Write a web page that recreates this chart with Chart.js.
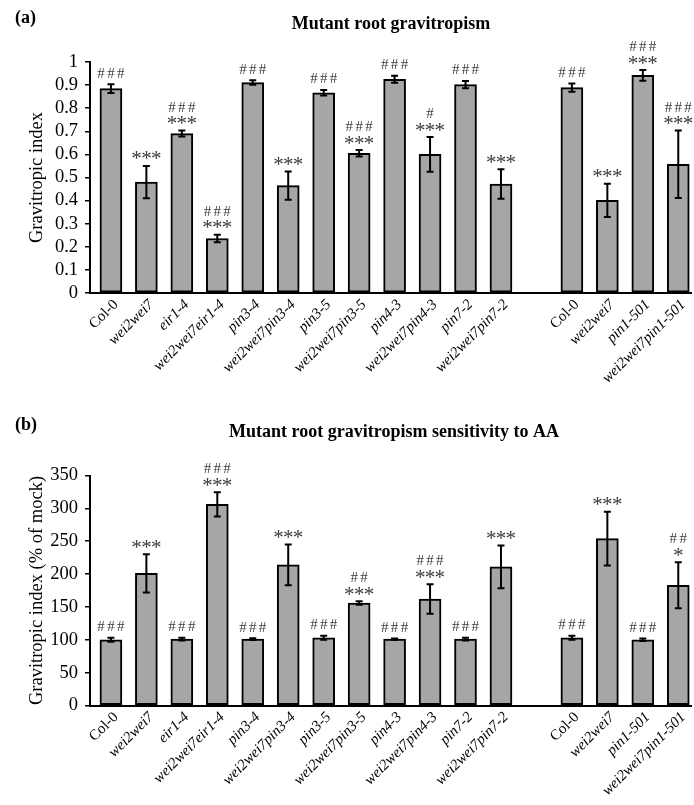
<!DOCTYPE html>
<html>
<head>
<meta charset="utf-8">
<script src="https://cdn.jsdelivr.net/npm/chart.js@4/dist/chart.umd.min.js"></script>
<style>
  html, body { margin: 0; padding: 0; background: #ffffff; }
  canvas { display: block; }
</style>
</head>
<body>
<canvas id="chartA" width="694" height="400"></canvas>
<canvas id="chartB" width="694" height="405"></canvas>
<script>
// ---- data ----
const categories = ['Col-0','wei2wei7','eir1-4','wei2wei7eir1-4','pin3-4','wei2wei7pin3-4','pin3-5','wei2wei7pin3-5','pin4-3','wei2wei7pin4-3','pin7-2','wei2wei7pin7-2','','Col-0','wei2wei7','pin1-501','wei2wei7pin1-501'];

const titleA = 'Mutant root gravitropism';
const panelA = '(a)';
const yTitleA = 'Gravitropic index';
const gravValues = [0.885,0.480,0.690,0.236,0.911,0.465,0.867,0.605,0.925,0.600,0.902,0.472,null,0.889,0.401,0.942,0.557];
const gravErrors = [0.019,0.070,0.013,0.016,0.010,0.061,0.012,0.014,0.015,0.075,0.016,0.064,null,0.018,0.072,0.023,0.146];
const gravHash = ['###','','###','###','###','','###','###','###','#','###','','','###','','###','###'];
const gravStar = ['','***','***','***','','***','','***','','***','','***','','','***','***','***'];

const titleB = 'Mutant root gravitropism sensitivity to AA';
const panelB = '(b)';
const yTitleB = 'Gravitropic index (% of mock)';
const aaValues = [100,201,101,306,101,214,103,156,101,162,101,211,null,103,254,100,183];
const aaErrors = [3,29,2,18.5,1.5,31,3,2.5,1,22.5,2,32.5,null,3,41,2,35];
const aaHash = ['###','','###','###','###','','###','##','###','###','###','','','###','','###','##'];
const aaStar = ['','***','','***','','***','','***','','***','','***','','','***','','*'];

const yTicksA = [0,0.1,0.2,0.3,0.4,0.5,0.6,0.7,0.8,0.9,1];
const yTicksB = [0,50,100,150,200,250,300,350];

// ---- helpers ----
const SERIF = '"Liberation Serif", "Times New Roman", serif';

function drawRow(ctx, text, cx, bottomY, font, spacing, color) {
  if (!text) return bottomY;
  ctx.font = font;
  ctx.fillStyle = color;
  ctx.textAlign = 'center';
  ctx.textBaseline = 'alphabetic';
  const m = ctx.measureText(text[0]);
  const baseline = bottomY - m.actualBoundingBoxDescent;
  const n = text.length;
  for (let k = 0; k < n; k++) {
    ctx.fillText(text[k], cx + (k - (n - 1) / 2) * spacing, baseline);
  }
  return baseline - m.actualBoundingBoxAscent;
}

function makePlugin(values, errors, hashes, stars, panel, title, titleX, labelBase, titleBase) {
  return {
    id: 'extras',
    afterDatasetsDraw(chart) {
      const ctx = chart.ctx;
      const xs = chart.scales.x, ys = chart.scales.y;
      ctx.save();
      // error bars
      ctx.strokeStyle = '#000';
      ctx.lineWidth = 2;
      values.forEach((v, i) => {
        if (v === null) return;
        const e = errors[i];
        const x = xs.getPixelForValue(i);
        const yt = ys.getPixelForValue(v + e);
        const yb = ys.getPixelForValue(v - e);
        ctx.beginPath();
        ctx.moveTo(x, yt); ctx.lineTo(x, yb);
        ctx.moveTo(x - 3.5, yt); ctx.lineTo(x + 3.5, yt);
        ctx.moveTo(x - 3.5, yb); ctx.lineTo(x + 3.5, yb);
        ctx.stroke();
      });
      // significance marks
      values.forEach((v, i) => {
        if (v === null) return;
        const x = xs.getPixelForValue(i);
        let bottom = ys.getPixelForValue(v + errors[i]) - 6.5;
        if (stars[i]) {
          const top = drawRow(ctx, stars[i], x, bottom, '21px ' + SERIF, 9.8, '#3c3c3c');
          bottom = top - 4.5;
        }
        if (hashes[i]) {
          drawRow(ctx, hashes[i], x, bottom, '15px ' + SERIF, 9.8, '#3c3c3c');
        }
      });
      // panel label and title
      ctx.fillStyle = '#000';
      ctx.textBaseline = 'alphabetic';
      ctx.font = 'bold 18px ' + SERIF;
      ctx.textAlign = 'left';
      ctx.fillText(panel, 15, labelBase);
      ctx.textAlign = 'center';
      ctx.fillText(title, titleX, titleBase);
      ctx.restore();
    }
  };
}

function buildChart(id, values, errors, hashes, stars, yTicks, yTitle, top, xHeight, plugin) {
  const yMax = yTicks[yTicks.length - 1];
  return new Chart(document.getElementById(id), {
    type: 'bar',
    data: {
      datasets: [{
        data: values.map((v, i) => ({ x: i, y: v })).filter(d => d.y !== null),
        backgroundColor: '#a6a6a6',
        borderColor: '#000000',
        borderWidth: 2,
        borderSkipped: false,
        barThickness: 22
      }]
    },
    options: {
      responsive: false,
      animation: false,
      devicePixelRatio: 1,
      layout: { padding: { top: top, right: 0, bottom: 0, left: 0 } },
      plugins: { legend: { display: false }, tooltip: { enabled: false }, title: { display: false } },
      scales: {
        x: {
          type: 'linear',
          min: -0.59,
          max: 16.38,
          offset: false,
          grid: { display: false, drawTicks: false },
          border: { display: true, color: '#000', width: 2 },
          afterBuildTicks: (s) => {
            s.ticks = categories.map((c, i) => ({ value: i })).filter(t => categories[t.value] !== '');
          },
          afterFit: (s) => { s.height = xHeight; },
          ticks: {
            autoSkip: false,
            minRotation: 45,
            maxRotation: 45,
            padding: 3,
            labelOffset: 5,
            color: '#000',
            callback: (v) => categories[v] || '',
            font: (c) => {
              const lbl = c.tick ? categories[c.tick.value] : '';
              return { family: SERIF, size: 15, style: lbl === 'Col-0' ? 'normal' : 'italic' };
            }
          }
        },
        y: {
          min: 0,
          max: yMax,
          grid: { display: true, drawOnChartArea: false, drawTicks: true, tickLength: 5, color: '#000', lineWidth: 1.5 },
          border: { display: true, color: '#000', width: 2 },
          afterBuildTicks: (s) => { s.ticks = yTicks.map(v => ({ value: v })); },
          afterFit: (s) => { s.width = 90; },
          ticks: {
            autoSkip: false,
            padding: 7,
            color: '#000',
            font: { family: SERIF, size: 18.5 },
            callback: (v) => String(Number(v.toFixed(2)))
          },
          title: {
            display: true,
            text: yTitle,
            color: '#000',
            font: { family: SERIF, size: 18.5 },
            padding: { top: 26, bottom: 0 }
          }
        }
      }
    },
    plugins: [plugin]
  });
}

buildChart('chartA', gravValues, gravErrors, gravHash, gravStar, yTicksA, yTitleA, 62, 107,
  makePlugin(gravValues, gravErrors, gravHash, gravStar, panelA, titleA, 391, 23, 29));
buildChart('chartB', aaValues, aaErrors, aaHash, aaStar, yTicksB, yTitleB, 75.5, 99.5,
  makePlugin(aaValues, aaErrors, aaHash, aaStar, panelB, titleB, 394, 30, 37));
</script>
</body>
</html>
